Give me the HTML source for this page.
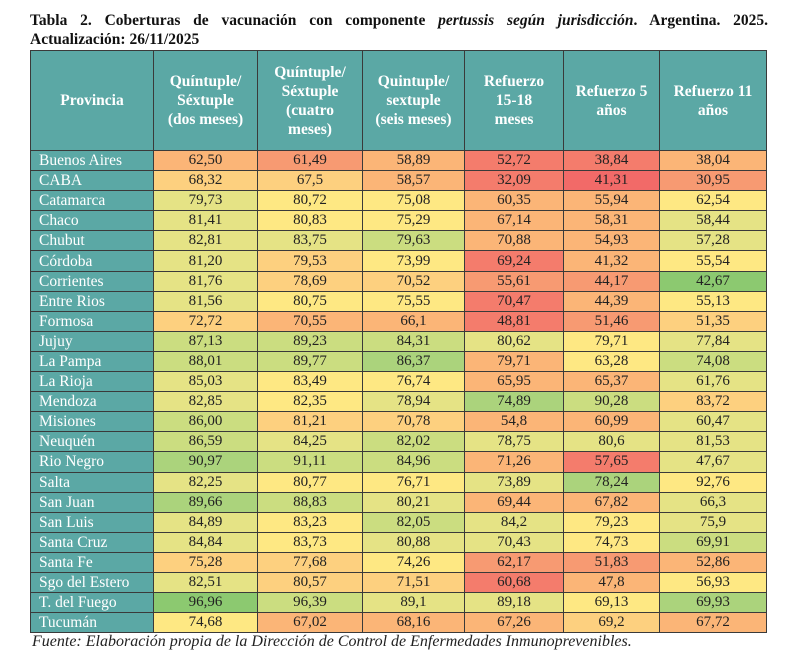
<!DOCTYPE html>
<html><head><meta charset="utf-8"><style>
body{margin:0;background:#fff;width:800px;height:659px;overflow:hidden;font-family:"Liberation Serif",serif;}
.t{position:absolute;left:30px;top:12px;width:738px;font-weight:bold;font-size:15.5px;line-height:18px;color:#111;text-align:justify;text-align-last:justify;}
.t2{position:absolute;left:30px;top:31px;font-weight:bold;font-size:15.5px;color:#111;}
table{position:absolute;left:30px;top:50px;border-collapse:collapse;table-layout:fixed;}
td,th{border:1px solid #3a3a3a;padding:0;text-align:center;color:#222;font-size:15px;}
th{background:#5ba8a5;color:#fff;font-weight:bold;height:99px;font-size:15.5px;line-height:19px;}
td{height:19.1px;line-height:19px;}
td.p{background:#5ba8a5;color:#fff;text-align:left;padding-left:8px;font-size:15.5px;}
.R{background:#f47c6c}.RR{background:#f26a68}.RO{background:#f79a72}.O{background:#fbb577}.LO{background:#fdd07f}.Y{background:#fee883}.YG{background:#e5e385}.LG{background:#cbdd80}.G{background:#abd37c}.DG{background:#8cc970}
.f{position:absolute;left:32px;top:633px;font-style:italic;font-size:16px;color:#222;}
</style></head><body>
<div class="t">Tabla 2. Coberturas de vacunación con componente <i>pertussis según jurisdicción</i>. Argentina. 2025.</div>
<div class="t2">Actualización: 26/11/2025</div>
<table>
<colgroup><col style="width:123px"><col style="width:104px"><col style="width:105px"><col style="width:102px"><col style="width:99px"><col style="width:96px"><col style="width:107px"></colgroup>
<tr><th>Provincia</th><th>Quíntuple/<br>Séxtuple<br>(dos meses)</th><th>Quíntuple/<br>Séxtuple<br>(cuatro<br>meses)</th><th>Quintuple/<br>sextuple<br>(seis meses)</th><th>Refuerzo<br>15-18<br>meses</th><th>Refuerzo 5<br>años</th><th>Refuerzo 11<br>años</th></tr>
<tr><td class="p">Buenos Aires</td><td class="O">62,50</td><td class="RO">61,49</td><td class="O">58,89</td><td class="R">52,72</td><td class="R">38,84</td><td class="O">38,04</td></tr>
<tr><td class="p">CABA</td><td class="LO">68,32</td><td class="LO">67,5</td><td class="O">58,57</td><td class="R">32,09</td><td class="RR">41,31</td><td class="RO">30,95</td></tr>
<tr><td class="p">Catamarca</td><td class="YG">79,73</td><td class="Y">80,72</td><td class="Y">75,08</td><td class="O">60,35</td><td class="O">55,94</td><td class="Y">62,54</td></tr>
<tr><td class="p">Chaco</td><td class="YG">81,41</td><td class="Y">80,83</td><td class="Y">75,29</td><td class="O">67,14</td><td class="O">58,31</td><td class="YG">58,44</td></tr>
<tr><td class="p">Chubut</td><td class="YG">82,81</td><td class="YG">83,75</td><td class="LG">79,63</td><td class="O">70,88</td><td class="O">54,93</td><td class="YG">57,28</td></tr>
<tr><td class="p">Córdoba</td><td class="YG">81,20</td><td class="LO">79,53</td><td class="Y">73,99</td><td class="R">69,24</td><td class="O">41,32</td><td class="Y">55,54</td></tr>
<tr><td class="p">Corrientes</td><td class="YG">81,76</td><td class="LO">78,69</td><td class="LO">70,52</td><td class="RO">55,61</td><td class="RO">44,17</td><td class="DG">42,67</td></tr>
<tr><td class="p">Entre Rios</td><td class="YG">81,56</td><td class="Y">80,75</td><td class="Y">75,55</td><td class="R">70,47</td><td class="O">44,39</td><td class="Y">55,13</td></tr>
<tr><td class="p">Formosa</td><td class="LO">72,72</td><td class="O">70,55</td><td class="O">66,1</td><td class="R">48,81</td><td class="RO">51,46</td><td class="LO">51,35</td></tr>
<tr><td class="p">Jujuy</td><td class="LG">87,13</td><td class="LG">89,23</td><td class="LG">84,31</td><td class="YG">80,62</td><td class="Y">79,71</td><td class="YG">77,84</td></tr>
<tr><td class="p">La Pampa</td><td class="LG">88,01</td><td class="LG">89,77</td><td class="G">86,37</td><td class="O">79,71</td><td class="Y">63,28</td><td class="LG">74,08</td></tr>
<tr><td class="p">La Rioja</td><td class="YG">85,03</td><td class="Y">83,49</td><td class="Y">76,74</td><td class="O">65,95</td><td class="O">65,37</td><td class="YG">61,76</td></tr>
<tr><td class="p">Mendoza</td><td class="YG">82,85</td><td class="Y">82,35</td><td class="YG">78,94</td><td class="G">74,89</td><td class="LG">90,28</td><td class="LO">83,72</td></tr>
<tr><td class="p">Misiones</td><td class="LG">86,00</td><td class="LO">81,21</td><td class="LO">70,78</td><td class="O">54,8</td><td class="O">60,99</td><td class="YG">60,47</td></tr>
<tr><td class="p">Neuquén</td><td class="LG">86,59</td><td class="YG">84,25</td><td class="LG">82,02</td><td class="YG">78,75</td><td class="YG">80,6</td><td class="YG">81,53</td></tr>
<tr><td class="p">Rio Negro</td><td class="G">90,97</td><td class="LG">91,11</td><td class="LG">84,96</td><td class="O">71,26</td><td class="R">57,65</td><td class="YG">47,67</td></tr>
<tr><td class="p">Salta</td><td class="YG">82,25</td><td class="Y">80,77</td><td class="Y">76,71</td><td class="YG">73,89</td><td class="G">78,24</td><td class="Y">92,76</td></tr>
<tr><td class="p">San Juan</td><td class="G">89,66</td><td class="LG">88,83</td><td class="YG">80,21</td><td class="O">69,44</td><td class="O">67,82</td><td class="YG">66,3</td></tr>
<tr><td class="p">San Luis</td><td class="YG">84,89</td><td class="Y">83,23</td><td class="LG">82,05</td><td class="YG">84,2</td><td class="Y">79,23</td><td class="YG">75,9</td></tr>
<tr><td class="p">Santa Cruz</td><td class="YG">84,84</td><td class="Y">83,73</td><td class="YG">80,88</td><td class="YG">70,43</td><td class="Y">74,73</td><td class="LG">69,91</td></tr>
<tr><td class="p">Santa Fe</td><td class="LO">75,28</td><td class="LO">77,68</td><td class="Y">74,26</td><td class="RO">62,17</td><td class="RO">51,83</td><td class="O">52,86</td></tr>
<tr><td class="p">Sgo del Estero</td><td class="YG">82,51</td><td class="LO">80,57</td><td class="LO">71,51</td><td class="R">60,68</td><td class="O">47,8</td><td class="Y">56,93</td></tr>
<tr><td class="p">T. del Fuego</td><td class="DG">96,96</td><td class="LG">96,39</td><td class="YG">89,1</td><td class="YG">89,18</td><td class="Y">69,13</td><td class="G">69,93</td></tr>
<tr><td class="p">Tucumán</td><td class="Y">74,68</td><td class="O">67,02</td><td class="O">68,16</td><td class="O">67,26</td><td class="LO">69,2</td><td class="O">67,72</td></tr>
</table>
<div class="f">Fuente: Elaboración propia de la Dirección de Control de Enfermedades Inmunoprevenibles.</div>
</body></html>
